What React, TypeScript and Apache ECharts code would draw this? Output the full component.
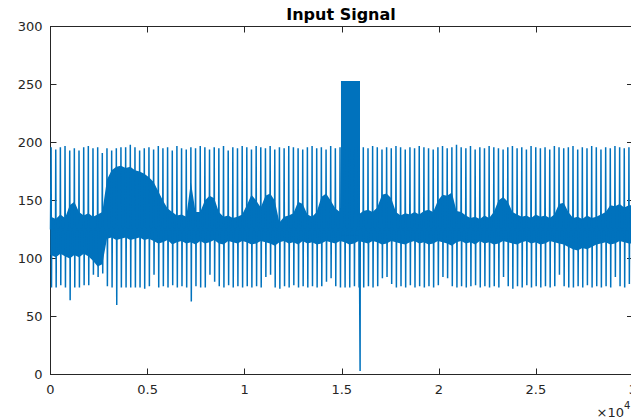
import React, { useEffect, useRef } from "react";
import * as echarts from "echarts";

// ---- data (x in samples, y in signal units) ----
const xTickLabels = ["0", "0.5", "1", "1.5", "2", "2.5", "3"];

// beat (QRS) positions
const beats = [
  30, 270, 508, 748, 990, 1228, 1468, 1710, 1948, 2188,
  2430, 2668, 2908, 3150, 3390, 3628, 3870, 4110, 4350, 4590,
  4830, 5070, 5310, 5552, 5790, 6030, 6272, 6510, 6750, 6992,
  7230, 7470, 7712, 7950, 8190, 8432, 8670, 8910, 9152, 9390,
  9630, 9872, 10110, 10350, 10592, 10830, 11070, 11312, 11550, 11790,
  12032, 12270, 12510, 12752, 12990, 13230, 13472, 13710, 13950, 14192,
  14430, 14670, 14912, 15150, 15390, 15632, 15870, 16110, 16352, 16590,
  16830, 17072, 17310, 17550, 17792, 18030, 18270, 18512, 18750, 18990,
  19232, 19470, 19710, 19952, 20190, 20430, 20672, 20910, 21150, 21392,
  21630, 21870, 22112, 22350, 22590, 22832, 23070, 23310, 23552, 23790,
  24030, 24272, 24510, 24750, 24992, 25230, 25470, 25712, 25950, 26190,
  26432, 26670, 26910, 27152, 27390, 27630, 27872, 28110, 28350, 28592,
  28830, 29070, 29312, 29550, 29790,
];

// peak of each beat
const beatTops = [
  196, 194, 196, 197, 193, 195, 193, 196, 197, 195, 196, 191, 195, 193, 195, 196, 196, 198, 196, 193, 195,
  196, 194, 197, 195, 196, 193, 197, 195, 194, 196, 195, 197, 196, 194, 196, 195, 197, 193, 196, 195, 197,
  196, 194, 197, 196, 195, 197, 194, 196, 195, 197, 196, 195, 194, 196, 197, 195, 196, 194, 197, 195, 196,
  196, 195, 196,
  197, 196, 195, 197, 196, 194, 196, 195, 197, 196, 194, 196, 195, 197, 196, 195, 194, 196, 197, 195, 196, 198,
  196, 195, 197, 194, 196, 195, 197, 196, 195, 194, 196, 197, 195, 196, 194, 197, 196, 195, 196, 194, 197, 196,
  195, 196, 197, 194, 196, 195, 197, 196, 194, 196, 195, 197, 196, 195, 196,
];

// trough of each beat
const beatBottoms = [
  75, 75, 77, 75, 64, 75, 75, 77, 77, 86, 84, 87, 76, 75, 60, 75, 75, 75, 75, 75, 74,
  76, 86, 75, 76, 75, 77, 75, 76, 75, 63, 76, 75, 75, 86, 80, 76, 75, 77, 75, 76, 75,
  76, 75, 76, 75, 84, 86, 75, 74, 76, 75, 77, 75, 76, 75, 76, 75, 76, 80, 83, 76, 75,
  75, 75, 76,
  75, 75, 76, 75, 76, 83, 84, 78, 75, 76, 75, 77, 75, 76, 75, 76, 75, 77, 84, 83, 76, 75,
  76, 75, 76, 77, 75, 76, 75, 76, 75, 84, 76, 74, 76, 75, 77, 75, 76, 75, 76, 75, 76, 86,
  76, 75, 75, 76, 75, 77, 75, 76, 75, 76, 75, 84, 76, 75, 78,
];

// upper / lower edge of the dense noise band at each beat
const bandUpper = [
  136, 134, 138, 135, 146, 149, 140, 137, 139, 136, 138, 140,
  168, 176, 179, 180, 178, 179, 176, 175, 173, 170, 166, 158, 150, 143, 140, 137, 138, 136,
  166, 140, 140, 150, 154, 152, 140, 136, 137, 135, 136, 138, 146, 155, 150, 144, 154, 156, 150, 131,
  136, 137, 139, 149, 147, 138, 136, 140, 153, 156, 150, 143, 140, 140, 140, 140, 138, 141, 142, 140,
  144, 155, 156, 152, 140, 137, 139, 138, 140, 138, 141, 142, 140, 150, 155, 154, 157, 141, 140, 137,
  135, 136, 134, 137, 135, 140, 150, 153, 149, 140, 138, 136, 137, 135, 138, 136, 137, 135, 138, 147,
  148, 140, 135, 136, 134, 137, 135, 136, 138, 140, 146, 145, 147, 144, 146,
];
const bandLower = [
  103, 101, 104, 102, 100, 103, 101, 104, 102, 98, 93, 95,
  117, 118, 116, 117, 118, 116, 117, 118, 116, 117,
  115, 113, 114, 116, 112, 114, 115, 113, 114, 112, 115, 113, 114, 116, 113, 112, 115, 114, 113, 115,
  114, 112, 113, 115, 114, 113, 111, 114,
  115, 113, 114, 112, 115, 113, 114, 112, 113, 115, 114, 113, 115, 114, 112, 113, 115, 114, 113, 115,
  114, 112, 113, 115, 114, 113, 112, 114, 115, 113,
  114, 112, 113, 115, 114, 113, 111, 114, 115, 113, 114, 112, 115, 113, 114, 112, 113, 115, 114, 113,
  112, 114, 115, 113, 114, 112, 113, 115, 114, 113, 112, 110,
  108, 107, 109, 108, 110, 112, 113, 114, 112, 113, 115, 114, 113,
];

// saturated pulse and the single deep drop after it
const pulseSpan = [14960, 15940];
const pulseLevel = [120, 253];
const dropAt = [15945];
const dropValue = [3];

const xRange = [0, 30000];

const CHART_W = 631;
const CHART_H = 419;

export default function App() {
  const ref = useRef<HTMLDivElement>(null);

  useEffect(() => {
    document.body.style.margin = "0";
    document.body.style.overflow = "hidden";
    const chart = echarts.init(ref.current as HTMLDivElement, null, {
      renderer: "svg",
      width: CHART_W,
      height: CHART_H,
    });
    const color = "#0072BD";
    const axisColor = "#262626";
    const font = "DejaVu Sans";
    const mid = 125;

    const spikePts: number[][] = [];
    beats.forEach((b, i) => {
      spikePts.push([b - 12, mid], [b, beatTops[i]], [b + 22, beatBottoms[i]], [b + 34, mid]);
    });
    dropAt.forEach((d, i) => {
      spikePts.push([d - 8, mid], [d, dropValue[i]], [d + 8, mid]);
    });
    spikePts.sort((a, b) => a[0] - b[0]);
    spikePts.unshift([xRange[0], mid]);
    spikePts.push([xRange[1], mid]);

    const axisCommon = {
      type: "value" as const,
      axisLine: { show: true, onZero: false, lineStyle: { color: axisColor, width: 1 } },
      axisTick: { show: true, inside: true, length: 6, lineStyle: { color: axisColor, width: 1 } },
      splitLine: { show: false },
    };

    chart.setOption({
      animation: false,
      grid: {
        left: 50.5,
        right: -2,
        top: 26.5,
        bottom: 44.5,
        containLabel: false,
        outerBoundsMode: "none",
      },
      xAxis: [
        {
          ...axisCommon,
          position: "bottom",
          min: xRange[0],
          max: xRange[1],
          interval: 5000,
          axisLabel: {
            color: axisColor,
            fontFamily: font,
            fontSize: 13,
            margin: 8,
            formatter: (v: number) => xTickLabels[Math.round(v / 5000)],
          },
        },
        {
          ...axisCommon,
          position: "top",
          min: xRange[0],
          max: xRange[1],
          interval: 5000,
          axisLabel: { show: false },
        },
      ],
      yAxis: [
        {
          ...axisCommon,
          position: "left",
          min: 0,
          max: 300,
          interval: 50,
          axisLabel: { color: axisColor, fontFamily: font, fontSize: 13, margin: 8 },
        },
        {
          ...axisCommon,
          position: "right",
          min: 0,
          max: 300,
          interval: 50,
          axisLabel: { show: false },
        },
      ],
      graphic: [
        {
          type: "text",
          x: 341,
          y: 14,
          style: {
            text: "Input Signal",
            font: `bold 16px '${font}'`,
            fill: "#000000",
            align: "center",
            verticalAlign: "middle",
            textAlign: "center",
            textVerticalAlign: "middle",
          },
        },
        {
          type: "text",
          x: 624,
          y: 412,
          style: {
            text: "×10",
            font: `13px '${font}'`,
            fill: axisColor,
            align: "right",
            verticalAlign: "middle",
            textAlign: "right",
            textVerticalAlign: "middle",
          },
        },
        {
          type: "text",
          x: 624,
          y: 405,
          style: {
            text: "4",
            font: `10px '${font}'`,
            fill: axisColor,
            align: "left",
            verticalAlign: "middle",
            textAlign: "left",
            textVerticalAlign: "middle",
          },
        },
      ],
      series: [
        {
          type: "custom",
          coordinateSystem: "cartesian2d",
          xAxisIndex: 0,
          yAxisIndex: 0,
          silent: true,
          z: 1,
          data: [[0, 0]],
          encode: { x: 0, y: 1 },
          renderItem: (_params: any, api: any) => {
            const up: number[][] = [api.coord([xRange[0], bandUpper[0]])];
            beats.forEach((b, i) => up.push(api.coord([b, bandUpper[i]])));
            up.push(api.coord([xRange[1], bandUpper[bandUpper.length - 1]]));
            const lo: number[][] = [api.coord([xRange[1], bandLower[bandLower.length - 1]])];
            for (let i = beats.length - 1; i >= 0; i--) lo.push(api.coord([beats[i], bandLower[i]]));
            lo.push(api.coord([xRange[0], bandLower[0]]));
            const pulse = [
              api.coord([pulseSpan[0], pulseLevel[0]]),
              api.coord([pulseSpan[0], pulseLevel[1]]),
              api.coord([pulseSpan[1], pulseLevel[1]]),
              api.coord([pulseSpan[1], pulseLevel[0]]),
            ];
            return {
              type: "group",
              children: [
                { type: "polygon", shape: { points: up.concat(lo) }, style: { fill: color } },
                { type: "polygon", shape: { points: pulse }, style: { fill: color } },
              ],
            };
          },
        },
        {
          type: "line",
          xAxisIndex: 0,
          yAxisIndex: 0,
          data: spikePts,
          showSymbol: false,
          symbol: "none",
          z: 2,
          lineStyle: { color, width: 1.5 },
        },
      ],
    });

    return () => chart.dispose();
  }, []);

  return (
    <div
      ref={ref}
      style={{ position: "fixed", left: 0, top: 0, width: CHART_W, height: CHART_H, background: "#ffffff" }}
    />
  );
}
